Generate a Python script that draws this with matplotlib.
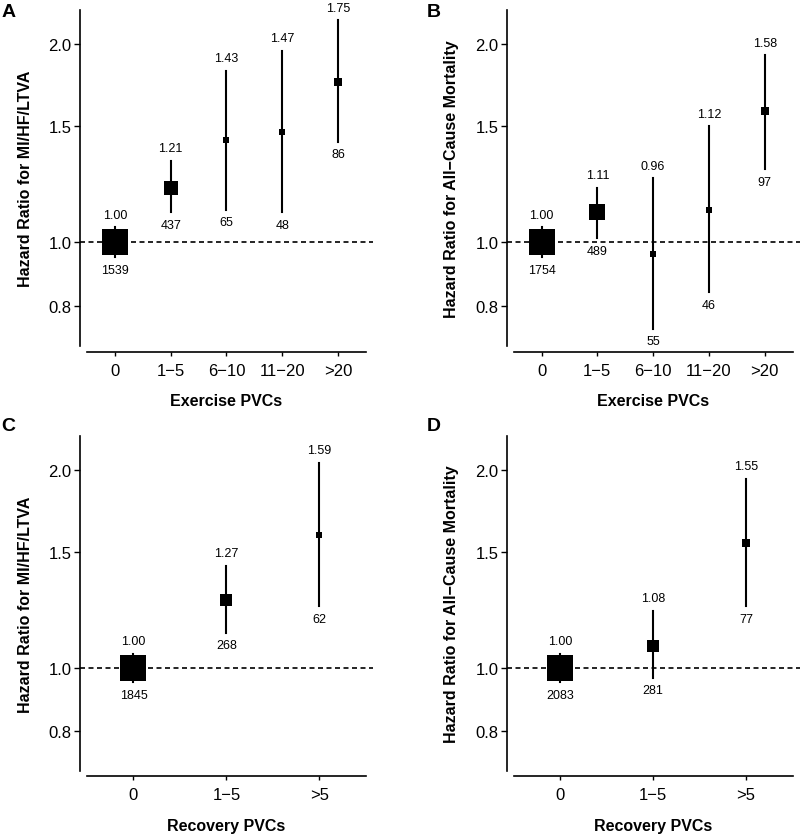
"""
PVC hazard ratio forest-style panels (A-D)
"""

import numpy as np
import matplotlib
matplotlib.use('Agg')
import matplotlib.pyplot as plt
from matplotlib.ticker import FixedLocator, FixedFormatter, NullLocator

matplotlib.rcParams['font.family'] = ['Liberation Sans', 'DejaVu Sans']
matplotlib.rcParams['axes.unicode_minus'] = False

# categories
exercise_groups = ['0', '1\u22125', '6\u221210', '11\u221220', '>20']
recovery_groups = ['0', '1\u22125', '>5']

# A: exercise PVCs, MI/HF/LTVA
a_hr = [1.00, 1.21, 1.43, 1.47, 1.75]
a_lo = [0.95, 1.11, 1.12, 1.11, 1.42]
a_hi = [1.055, 1.33, 1.82, 1.95, 2.17]
a_n = [1539, 437, 65, 48, 86]

# B: exercise PVCs, all-cause mortality
b_hr = [1.00, 1.11, 0.96, 1.12, 1.58]
b_lo = [0.95, 1.015, 0.74, 0.84, 1.29]
b_hi = [1.055, 1.21, 1.25, 1.50, 1.92]
b_n = [1754, 489, 55, 46, 97]

# C: recovery PVCs, MI/HF/LTVA
c_hr = [1.00, 1.27, 1.59]
c_lo = [0.95, 1.13, 1.24]
c_hi = [1.05, 1.43, 2.05]
c_n = [1845, 268, 62]

# D: recovery PVCs, all-cause mortality
d_hr = [1.00, 1.08, 1.55]
d_lo = [0.95, 0.965, 1.24]
d_hi = [1.05, 1.22, 1.94]
d_n = [2083, 281, 77]

y_ticks = [0.8, 1.0, 1.5, 2.0]
y_ticklabels = ['0.8', '1.0', '1.5', '2.0']


def draw_panel(ax, groups, hr, lo, hi, n, xlabel, ylabel):
    """画一个面板"""
    k = len(groups)
    x = np.arange(1, k + 1)

    # 参考线
    ax.axhline(1.0, color='black', lw=1.2, ls=(0, (3.0, 2.1)), zorder=1)

    for xi, h, l, u, cnt in zip(x, hr, lo, hi, n):
        ax.plot([xi, xi], [l, u], color='black', lw=1.5, zorder=2)
        side = min(0.62 * np.sqrt(cnt) + 1.7, 26)  # 方块边长 (px)
        ax.plot(xi, h, marker='s', color='black', ms=side * 0.72,
                mew=0, ls='none', zorder=3)
        ax.annotate(f'{h:.2f}', (xi, u), xytext=(0, 9),
                    textcoords='offset points', ha='center', va='center',
                    fontsize=9)
        ax.annotate(f'{cnt}', (xi, l), xytext=(0, -9),
                    textcoords='offset points', ha='center', va='center',
                    fontsize=9)

    pad = 0.025 * k
    ax.set_xlim(0.5 - pad, k + 0.5 + pad)
    ax.set_yscale('log')
    ax.set_ylim(0.697, 2.25)
    ax.yaxis.set_major_locator(FixedLocator(y_ticks))
    ax.yaxis.set_major_formatter(FixedFormatter(y_ticklabels))
    ax.yaxis.set_minor_locator(NullLocator())
    ax.set_xticks(x)
    ax.set_xticklabels(groups)

    for s in ['top', 'right']:
        ax.spines[s].set_visible(False)
    ax.spines['bottom'].set_position(('outward', 4))
    ax.spines['bottom'].set_bounds(0.5, k + 0.5)
    ax.spines['left'].set_linewidth(1.2)
    ax.spines['bottom'].set_linewidth(1.2)

    ax.tick_params(axis='y', length=4, width=1.0, pad=2, labelsize=12)
    ax.tick_params(axis='x', length=3, width=1.0, pad=5, labelsize=12)

    ax.set_xlabel(xlabel, fontsize=11.5, fontweight='bold')
    ax.set_ylabel(ylabel, fontsize=11.5, fontweight='bold')
    ax.xaxis.set_label_coords(0.5, -0.14)
    ax.yaxis.set_label_coords(-0.162, 0.5)


fig = plt.figure(figsize=(8, 8.37), dpi=100)

ax_a = fig.add_axes([0.1, 0.5854, 0.366, 0.4018])
ax_b = fig.add_axes([0.6334, 0.5854, 0.366, 0.4018])
ax_c = fig.add_axes([0.1, 0.0780, 0.366, 0.3995])
ax_d = fig.add_axes([0.6334, 0.0780, 0.366, 0.3995])

draw_panel(ax_a, exercise_groups, a_hr, a_lo, a_hi, a_n,
           'Exercise PVCs', 'Hazard Ratio for MI/HF/LTVA')
draw_panel(ax_b, exercise_groups, b_hr, b_lo, b_hi, b_n,
           'Exercise PVCs', 'Hazard Ratio for All\u2212Cause Mortality')
draw_panel(ax_c, recovery_groups, c_hr, c_lo, c_hi, c_n,
           'Recovery PVCs', 'Hazard Ratio for MI/HF/LTVA')
draw_panel(ax_d, recovery_groups, d_hr, d_lo, d_hi, d_n,
           'Recovery PVCs', 'Hazard Ratio for All\u2212Cause Mortality')

# 面板字母
for lab, xx, yy in [('A', 0.002, 0.995), ('B', 0.534, 0.995),
                    ('C', 0.002, 0.501), ('D', 0.534, 0.500)]:
    fig.text(xx, yy, lab, fontsize=14, fontweight='bold', ha='left', va='top')

fig.savefig('out.png', dpi=100)
plt.close(fig)
